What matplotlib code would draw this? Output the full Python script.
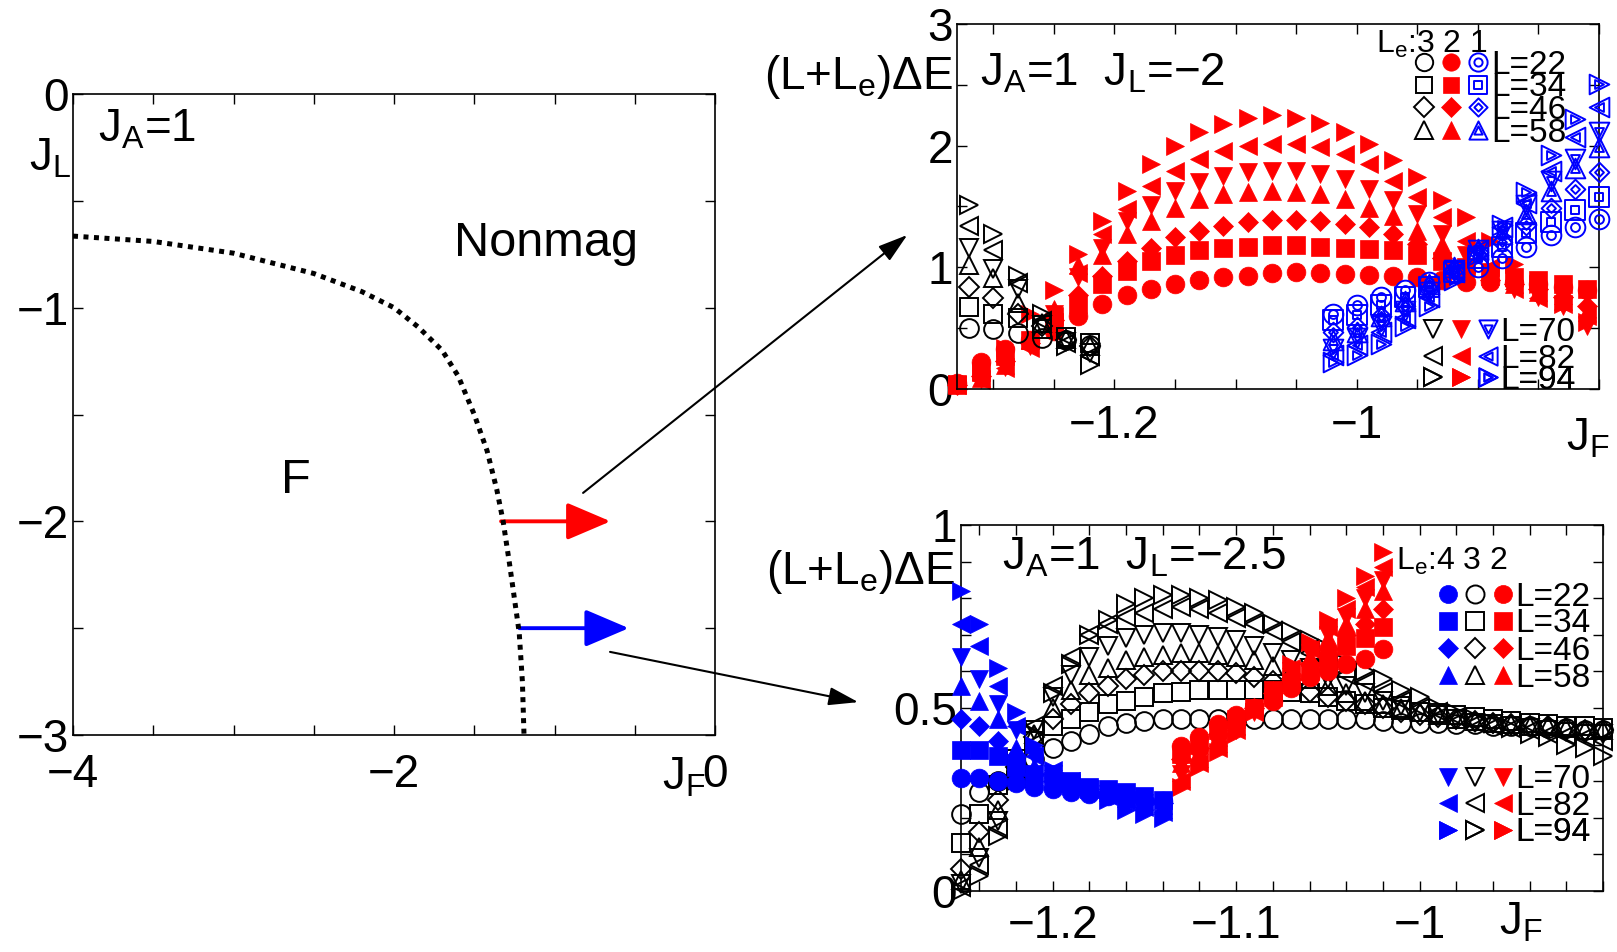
import numpy as np
import matplotlib
matplotlib.use('Agg')
import matplotlib.pyplot as plt
from matplotlib.markers import MarkerStyle
from matplotlib.path import Path
from matplotlib.transforms import Affine2D
from matplotlib.lines import Line2D
from matplotlib.legend_handler import HandlerTuple
from matplotlib.patches import FancyArrowPatch, ConnectionPatch
from matplotlib.ticker import MultipleLocator, FuncFormatter

plt.rcParams['font.family'] = ['Liberation Sans', 'DejaVu Sans']
plt.rcParams['mathtext.fontset'] = 'custom'
plt.rcParams['mathtext.rm'] = 'Liberation Sans'
plt.rcParams['mathtext.it'] = 'Liberation Sans'
plt.rcParams['mathtext.default'] = 'rm'

# ---------------- data ----------------
# phase boundary (left panel)
JF_boundary = [-4.0, -3.5, -3.0, -2.5, -2.2, -2.0, -1.85, -1.7, -1.6, -1.5, -1.42,
               -1.36, -1.32, -1.28, -1.25, -1.22, -1.20, -1.19]
JL_boundary = [-0.665, -0.69, -0.745, -0.84, -0.925, -1.0, -1.09, -1.2, -1.32, -1.5, -1.67,
               -1.85, -2.0, -2.2, -2.36, -2.52, -2.75, -3.0]
cut_JL = [-2.0, -2.5]
cut_JF_start = [-1.333, -1.219]
cut_JF_end = [-0.651, -0.537]
cut_colors = ['red', 'blue']

L_values = [22, 34, 46, 58, 70, 82, 94]
marker_shapes = ['o', 's', 'D', '^', 'v', '<', '>']

# top-right panel, J_L = -2
top_JF_Le3 = [-1.32, -1.30, -1.28, -1.26, -1.24, -1.22]
top_dE_Le3 = [
    [0.50, 0.49, 0.46, 0.42, 0.40, 0.36],
    [0.67, 0.62, 0.58, 0.49, 0.43, 0.38],
    [0.84, 0.75, 0.62, 0.52, 0.40, 0.35],
    [1.02, 0.91, 0.71, 0.54, 0.41, 0.35],
    [1.16, 0.99, 0.82, 0.53, 0.39, 0.30],
    [1.34, 1.145, 0.87, 0.56, 0.38, 0.27],
    [1.515, 1.27, 0.93, 0.62, 0.35, 0.20],
]
top_JF_Le2 = [-1.33, -1.31, -1.29, -1.27, -1.25, -1.23, -1.21, -1.19, -1.17, -1.15, -1.13,
              -1.11, -1.09, -1.07, -1.05, -1.03, -1.01, -0.99, -0.97, -0.95, -0.93, -0.91,
              -0.89, -0.87, -0.85, -0.83, -0.81]
top_dE_Le2 = [
    [0.05, 0.22, 0.33, 0.40, 0.48, 0.60, 0.70, 0.77, 0.82, 0.86, 0.90, 0.92, 0.93, 0.95, 0.96,
     0.95, 0.945, 0.94, 0.93, 0.92, 0.90, 0.88, 0.88, 0.87, 0.86, 0.84, 0.81],
    [0.04, 0.14, 0.27, 0.40, 0.55, 0.70, 0.86, 0.97, 1.05, 1.10, 1.14, 1.16, 1.17, 1.18, 1.18,
     1.17, 1.16, 1.15, 1.14, 1.10, 1.05, 1.00, 0.96, 0.92, 0.90, 0.86, 0.82],
    [0.03, 0.11, 0.23, 0.38, 0.57, 0.77, 0.93, 1.05, 1.16, 1.25, 1.30, 1.34, 1.37, 1.39, 1.39,
     1.38, 1.36, 1.33, 1.27, 1.19, 1.08, 0.97, 0.90, 0.86, 0.82, 0.76, 0.68],
    [0.03, 0.09, 0.20, 0.40, 0.66, 1.02, 1.10, 1.27, 1.38, 1.49, 1.56, 1.60, 1.62, 1.63, 1.62,
     1.60, 1.56, 1.49, 1.42, 1.30, 1.18, 1.03, 0.93, 0.86, 0.80, 0.72, 0.63],
    [0.03, 0.08, 0.18, 0.35, 0.62, 0.92, 1.16, 1.38, 1.51, 1.63, 1.70, 1.75, 1.78, 1.79, 1.79,
     1.77, 1.73, 1.64, 1.55, 1.44, 1.27, 1.10, 0.94, 0.82, 0.76, 0.68, 0.52],
    [0.03, 0.07, 0.17, 0.34, 0.60, 0.95, 1.27, 1.48, 1.67, 1.79, 1.89, 1.96, 2.00, 2.01, 2.01,
     1.99, 1.93, 1.85, 1.71, 1.58, 1.41, 1.22, 1.00, 0.82, 0.75, 0.70, 0.60],
    [0.04, 0.15, 0.34, 0.62, 0.81, 1.11, 1.38, 1.63, 1.85, 2.00, 2.11, 2.18, 2.23, 2.25, 2.23,
     2.19, 2.11, 2.01, 1.88, 1.74, 1.55, 1.41, 1.22, 1.03, 0.86, 0.70, 0.55],
]
top_JF_Le1 = [-1.02, -1.00, -0.98, -0.96, -0.94, -0.92, -0.90, -0.88, -0.86, -0.84, -0.82, -0.80]
top_dE_Le1 = [
    [0.62, 0.69, 0.76, 0.81, 0.88, 0.95, 1.00, 1.08, 1.17, 1.265, 1.33, 1.40],
    [0.57, 0.61, 0.69, 0.76, 0.84, 0.96, 1.08, 1.17, 1.28, 1.37, 1.47, 1.58],
    [0.47, 0.51, 0.60, 0.68, 0.82, 0.98, 1.13, 1.21, 1.35, 1.49, 1.64, 1.78],
    [0.40, 0.47, 0.60, 0.72, 0.86, 1.00, 1.15, 1.27, 1.44, 1.63, 1.82, 1.99],
    [0.33, 0.42, 0.52, 0.64, 0.80, 0.98, 1.14, 1.30, 1.51, 1.71, 1.89, 2.11],
    [0.28, 0.36, 0.47, 0.58, 0.76, 0.96, 1.14, 1.33, 1.53, 1.79, 2.07, 2.32],
    [0.22, 0.28, 0.37, 0.52, 0.68, 0.90, 1.10, 1.35, 1.62, 1.92, 2.22, 2.51],
]

# bottom-right panel, J_L = -2.5
bot_JF_Le4 = [-1.25, -1.24, -1.23, -1.22, -1.21, -1.20, -1.19, -1.18, -1.17, -1.16, -1.15, -1.14]
bot_dE_Le4 = [
    [0.31, 0.31, 0.30, 0.295, 0.285, 0.28, 0.27, 0.265, 0.26, 0.255, 0.25, 0.245],
    [0.385, 0.385, 0.37, 0.34, 0.32, 0.30, 0.295, 0.285, 0.28, 0.27, 0.26, 0.25],
    [0.47, 0.45, 0.41, 0.37, 0.32, 0.30, 0.29, 0.28, 0.27, 0.26, 0.25, 0.24],
    [0.56, 0.52, 0.47, 0.39, 0.34, 0.31, 0.29, 0.28, 0.27, 0.255, 0.245, 0.235],
    [0.64, 0.58, 0.51, 0.44, 0.37, 0.32, 0.30, 0.28, 0.265, 0.25, 0.24, 0.225],
    [0.73, 0.67, 0.56, 0.45, 0.37, 0.33, 0.30, 0.28, 0.26, 0.245, 0.23, 0.215],
    [0.82, 0.73, 0.61, 0.49, 0.40, 0.33, 0.30, 0.28, 0.25, 0.22, 0.21, 0.20],
]
bot_JF_Le3 = [-1.25, -1.24, -1.23, -1.22, -1.21, -1.20, -1.19, -1.18, -1.17, -1.16, -1.15, -1.14,
              -1.13, -1.12, -1.11, -1.10, -1.09, -1.08, -1.07, -1.06, -1.05, -1.04, -1.03, -1.02,
              -1.01, -1.00, -0.99, -0.98, -0.97, -0.96, -0.95, -0.94, -0.93, -0.92, -0.91, -0.90]
bot_dE_Le3 = [
    [0.21, 0.27, 0.30, 0.33, 0.36, 0.39, 0.41, 0.43, 0.45, 0.46, 0.465, 0.47, 0.47, 0.47, 0.47,
     0.47, 0.47, 0.47, 0.47, 0.47, 0.47, 0.47, 0.47, 0.465, 0.46, 0.46, 0.46, 0.455, 0.455,
     0.45, 0.45, 0.45, 0.445, 0.445, 0.44, 0.44],
    [0.13, 0.21, 0.29, 0.36, 0.41, 0.45, 0.47, 0.49, 0.51, 0.52, 0.53, 0.54, 0.545, 0.55, 0.55,
     0.55, 0.55, 0.55, 0.545, 0.54, 0.53, 0.52, 0.51, 0.50, 0.495, 0.49, 0.485, 0.48, 0.475,
     0.47, 0.465, 0.46, 0.455, 0.45, 0.45, 0.445],
    [0.06, 0.16, 0.25, 0.34, 0.42, 0.47, 0.51, 0.54, 0.56, 0.58, 0.59, 0.60, 0.60, 0.60, 0.60,
     0.595, 0.585, 0.575, 0.56, 0.545, 0.53, 0.52, 0.51, 0.50, 0.49, 0.48, 0.475, 0.47, 0.465,
     0.46, 0.455, 0.45, 0.45, 0.445, 0.44, 0.44],
    [0.03, 0.12, 0.22, 0.33, 0.43, 0.50, 0.55, 0.59, 0.61, 0.63, 0.64, 0.645, 0.65, 0.65, 0.645,
     0.64, 0.63, 0.615, 0.60, 0.58, 0.56, 0.54, 0.52, 0.51, 0.50, 0.49, 0.48, 0.47, 0.465,
     0.46, 0.455, 0.45, 0.45, 0.445, 0.44, 0.44],
    [0.02, 0.09, 0.19, 0.32, 0.44, 0.53, 0.59, 0.64, 0.67, 0.69, 0.70, 0.705, 0.705, 0.70, 0.695,
     0.685, 0.67, 0.65, 0.63, 0.61, 0.58, 0.56, 0.54, 0.52, 0.505, 0.49, 0.48, 0.47, 0.46,
     0.455, 0.45, 0.445, 0.44, 0.435, 0.43, 0.43],
    [0.01, 0.07, 0.17, 0.31, 0.45, 0.56, 0.64, 0.70, 0.73, 0.75, 0.76, 0.77, 0.775, 0.77, 0.76,
     0.745, 0.73, 0.71, 0.68, 0.65, 0.62, 0.59, 0.57, 0.545, 0.52, 0.50, 0.49, 0.475, 0.46,
     0.45, 0.445, 0.44, 0.43, 0.425, 0.42, 0.41],
    [0.00, 0.04, 0.15, 0.30, 0.43, 0.54, 0.62, 0.70, 0.74, 0.785, 0.80, 0.81, 0.81, 0.80, 0.795,
     0.775, 0.76, 0.73, 0.71, 0.685, 0.66, 0.62, 0.60, 0.58, 0.55, 0.53, 0.50, 0.485, 0.47,
     0.46, 0.445, 0.43, 0.42, 0.40, 0.39, 0.37],
]
bot_JF_Le2 = [-1.13, -1.12, -1.11, -1.10, -1.09, -1.08, -1.07, -1.06, -1.05, -1.04, -1.03, -1.02]
bot_dE_Le2 = [
    [0.395, 0.42, 0.455, 0.48, 0.50, 0.52, 0.555, 0.585, 0.60, 0.62, 0.635, 0.66],
    [0.375, 0.40, 0.44, 0.47, 0.50, 0.53, 0.57, 0.60, 0.63, 0.67, 0.69, 0.72],
    [0.36, 0.39, 0.43, 0.46, 0.50, 0.54, 0.58, 0.62, 0.66, 0.70, 0.73, 0.77],
    [0.35, 0.38, 0.42, 0.45, 0.50, 0.55, 0.60, 0.64, 0.69, 0.73, 0.77, 0.82],
    [0.32, 0.36, 0.40, 0.44, 0.49, 0.55, 0.60, 0.65, 0.70, 0.75, 0.80, 0.85],
    [0.30, 0.35, 0.39, 0.44, 0.49, 0.55, 0.61, 0.66, 0.72, 0.77, 0.83, 0.885],
    [0.285, 0.34, 0.38, 0.43, 0.49, 0.55, 0.62, 0.68, 0.74, 0.80, 0.86, 0.925],
]

# ---------------- styling helpers ----------------
RED, BLUE, BLACK = '#ff0000', '#0000ff', '#000000'
TICK_FS = 33
LEG_FS = 24
MS = 13.5
SIZE_FACTOR = {'o': 1.0, 's': 0.95, 'D': 0.78, '^': 1.0, 'v': 1.0, '<': 1.0, '>': 1.0}


def double_marker(m):
    st = MarkerStyle(m)
    p = st.get_path().transformed(st.get_transform())
    inner = p.transformed(Affine2D().scale(0.45))
    return Path.make_compound_path(p, inner)


DOUBLE = {m: double_marker(m) for m in marker_shapes}


def style(kind, m, ms=MS):
    if kind == 'bluedouble':
        return dict(marker=DOUBLE[m], ms=ms * 1.05, mfc='none', mec=BLUE, mew=1.4)
    ms = ms * SIZE_FACTOR[m]
    if kind == 'black':
        return dict(marker=m, ms=ms, mfc='none', mec=BLACK, mew=1.4)
    if kind == 'red':
        return dict(marker=m, ms=ms, mfc=RED, mec=RED, mew=0.5)
    if kind == 'blue':
        return dict(marker=m, ms=ms, mfc=BLUE, mec=BLUE, mew=0.5)


def fmt_factory(labeled):
    def f(v, pos):
        for l in labeled:
            if abs(v - l) < 1e-6:
                s = ('%g' % l)
                return s.replace('-', '\u2212')
        return ''
    return FuncFormatter(f)


def setup_axes(ax, xlim, ylim, xstep, ystep, xlab, ylab, xpad):
    ax.set_xlim(*xlim)
    ax.set_ylim(*ylim)
    ax.xaxis.set_major_locator(MultipleLocator(xstep))
    ax.yaxis.set_major_locator(MultipleLocator(ystep))
    ax.xaxis.set_major_formatter(fmt_factory(xlab))
    ax.yaxis.set_major_formatter(fmt_factory(ylab))
    ax.tick_params(direction='in', top=True, right=True, length=7, width=1.0,
                   labelsize=TICK_FS)
    ax.tick_params(axis='x', pad=xpad)
    ax.tick_params(axis='y', pad=3)
    for s in ax.spines.values():
        s.set_linewidth(1.2)


fig = plt.figure(figsize=(16.17, 9.52), dpi=100)
W, H = 1617.0, 952.0
ax0 = fig.add_axes([73 / W, 1 - 735 / H, 642 / W, 641 / H])
ax1 = fig.add_axes([957 / W, 1 - 389 / H, 642 / W, 365 / H])
ax2 = fig.add_axes([961 / W, 1 - 891 / H, 642 / W, 366 / H])

# ---------------- left panel ----------------
setup_axes(ax0, (-4, 0), (-3, 0), 0.5, 0.5, [-4, -2, 0], [0, -1, -2, -3], xpad=13)
ax0.plot(JF_boundary, JL_boundary, color='black', lw=3.6, linestyle=(0, (1, 1.1)),
         dash_capstyle='butt')
for y, xs, xe, c in zip(cut_JL, cut_JF_start, cut_JF_end, cut_colors):
    ax0.add_patch(FancyArrowPatch((xs, y), (xe, y),
                                  arrowstyle='-|>,head_length=2.7,head_width=1.15',
                                  mutation_scale=10, lw=2.8, color=c,
                                  shrinkA=0, shrinkB=0))
ax0.text(0.039, 0.945, r'J$_{A}$=1', transform=ax0.transAxes, fontsize=TICK_FS,
         ha='left', va='center')
ax0.text(-1.05, -0.70, 'Nonmag', fontsize=35, ha='center', va='center')
ax0.text(-2.61, -1.81, 'F', fontsize=35, ha='center', va='center')
ax0.text(-0.035, 0.9, r'J$_{L}$', transform=ax0.transAxes, fontsize=TICK_FS,
         ha='center', va='center')
ax0.text(0.985, -0.066, r'J$_{F}$', transform=ax0.transAxes, fontsize=TICK_FS,
         ha='right', va='center')

# ---------------- top-right panel ----------------
setup_axes(ax1, (-1.33, -0.80), (0, 3), 0.05, 0.5, [-1.2, -1.0], [0, 1, 2, 3], xpad=11)
for i, m in enumerate(marker_shapes):
    ax1.plot(top_JF_Le2, top_dE_Le2[i], ls='none', clip_on=False, zorder=2, **style('red', m))
for i, m in enumerate(marker_shapes):
    ax1.plot(top_JF_Le3, top_dE_Le3[i], ls='none', clip_on=False, zorder=3, **style('black', m))
for i, m in enumerate(marker_shapes):
    ax1.plot(top_JF_Le1, top_dE_Le1[i], ls='none', clip_on=False, zorder=4,
             **style('bluedouble', m))
ax1.text(0.036, 0.865, 'J$_{A}$=1  J$_{L}$=\u22122',
         transform=ax1.transAxes, fontsize=TICK_FS, ha='left', va='center')
ax1.text(-0.154, 0.855, r'(L+L$_{e}$)ΔE', transform=ax1.transAxes, fontsize=TICK_FS,
         ha='center', va='center')
ax1.text(0.983, -0.135, r'J$_{F}$', transform=ax1.transAxes, fontsize=TICK_FS,
         ha='center', va='center')
ax1.text(0.652, 0.945, r'L$_{e}$:3 2 1', transform=ax1.transAxes, fontsize=LEG_FS - 1,
         ha='left', va='center')

# ---------------- bottom-right panel ----------------
setup_axes(ax2, (-1.25, -0.90), (0, 1), 0.02, 0.1, [-1.2, -1.1, -1.0], [0, 0.5, 1], xpad=9)
for i, m in enumerate(marker_shapes):
    ax2.plot(bot_JF_Le3, bot_dE_Le3[i], ls='none', clip_on=False, zorder=2, **style('black', m))
for i, m in enumerate(marker_shapes):
    ax2.plot(bot_JF_Le2, bot_dE_Le2[i], ls='none', clip_on=False, zorder=3, **style('red', m))
for i, m in enumerate(marker_shapes):
    ax2.plot(bot_JF_Le4, bot_dE_Le4[i], ls='none', clip_on=False, zorder=4, **style('blue', m))
ax2.text(0.064, 0.91, 'J$_{A}$=1  J$_{L}$=\u22122.5', transform=ax2.transAxes,
         fontsize=TICK_FS, ha='left', va='center')
ax2.text(-0.157, 0.872, r'(L+L$_{e}$)ΔE', transform=ax2.transAxes, fontsize=TICK_FS,
         ha='center', va='center')
ax2.text(0.872, -0.087, r'J$_{F}$', transform=ax2.transAxes, fontsize=TICK_FS,
         ha='center', va='center')
ax2.text(0.678, 0.9, r'L$_{e}$:4 3 2', transform=ax2.transAxes, fontsize=LEG_FS - 1,
         ha='left', va='center')


# ---------------- legends (one per row) ----------------
def row_legend(ax, kinds, m, label, xc0, y, pitch_px=27.3, gap_px=12.5, ms=12.5):
    fs_px = LEG_FS * 100 / 72.0
    ax_w = ax.get_position().width * W
    handles = tuple(Line2D([], [], ls='none', **style(k, m, ms)) for k in kinds)
    hl = 3 * pitch_px / fs_px
    htp = (gap_px - pitch_px / 2) / fs_px
    x0 = xc0 - (pitch_px / 2) / ax_w
    leg = ax.legend([handles], [label], handler_map={tuple: HandlerTuple(ndivide=None, pad=0)},
                    loc='center left', bbox_to_anchor=(x0, y), bbox_transform=ax.transAxes,
                    frameon=False, borderpad=0, borderaxespad=0, handlelength=hl,
                    handletextpad=htp, fontsize=LEG_FS, numpoints=1)
    leg.set_zorder(6)
    ax.add_artist(leg)


top_rows_y = [0.886, 0.825, 0.764, 0.700, 0.155, 0.082, 0.023]
top_rows_x = [0.727] * 4 + [0.742] * 3
for i, m in enumerate(marker_shapes):
    row_legend(ax1, ['black', 'red', 'bluedouble'], m, 'L=%d' % L_values[i],
               top_rows_x[i], top_rows_y[i])

bot_rows_y = [0.803, 0.730, 0.655, 0.581, 0.304, 0.231, 0.159]
for i, m in enumerate(marker_shapes):
    row_legend(ax2, ['blue', 'black', 'red'], m, 'L=%d' % L_values[i],
               0.758, bot_rows_y[i], pitch_px=27.5, gap_px=13.0, ms=13)

# ---------------- connector arrows ----------------
for xyA, xyB, axB in [((-0.822, -1.867), (-1.371, 1.266), ax1),
                      ((-0.654, -2.611), (-1.306, 0.516), ax2)]:
    con = ConnectionPatch(xyA=xyA, coordsA=ax0.transData, xyB=xyB, coordsB=axB.transData,
                          arrowstyle='-|>,head_length=1.3,head_width=0.4', mutation_scale=14,
                          lw=1.5, color='black', shrinkA=0, shrinkB=0)
    fig.add_artist(con)

fig.savefig('out.png', dpi=100)
